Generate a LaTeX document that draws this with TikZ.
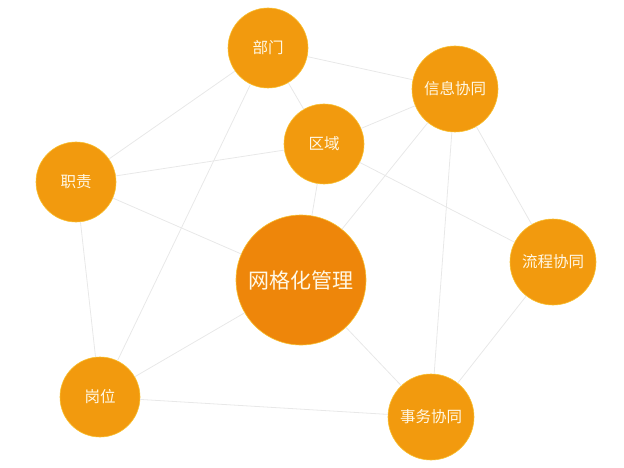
\documentclass[tikz,border=0pt]{standalone}
\usepackage{fontspec}
\newfontfamily\cjk{Noto Sans CJK SC}
\usepackage{tikz}
\usetikzlibrary{positioning}
\definecolor{ringorange}{HTML}{F29A0E}
\definecolor{coreorange}{HTML}{EE860A}
\definecolor{ringedge}{HTML}{F8C030}
\definecolor{linkgray}{HTML}{E8E8E8}
\definecolor{labelcream}{HTML}{FFF8E6}
\tikzset{
	every path/.style={line width=0.8pt},
	bubble/.style={circle, fill=ringorange, draw=ringedge, line width=0.6pt, minimum size=80pt, inner sep=0pt, text=labelcream, font=\cjk\fontsize{15.5}{15.5}\selectfont},
	wide/.style={bubble, minimum size=86pt},
	core/.style={bubble, fill=coreorange, minimum size=130pt, font=\cjk\fontsize{21}{21}\selectfont},
	link/.style={draw=linkgray, line width=0.8pt}
}
\begin{document}
\begin{tikzpicture}[x=1pt, y=-1pt]
						\useasboundingbox (0,0) rectangle (624,468);
						
						\node (dept) [bubble] at (268,48) {部门};
						\node (info) [wide] at (455,89) {信息协同};
						\node (area) [bubble] at (324,144) {区域};
						\node (duty) [bubble] at (76,182) {职责};
						\node (grid) [core] at (301,280) {网格化管理};
						\node (flow) [wide] at (553,262) {流程协同};
						\node (post) [bubble] at (100,397) {岗位};
						\node (task) [wide] at (431,417) {事务协同};
						
						\path[link] (dept) edge (info);
						\path[link] (dept) edge (duty);
						\path[link] (dept) edge (post);
						\path[link] (dept) edge (area);
						\path[link] (area) edge (info);
						\path[link] (area) edge (duty);
						\path[link] (area) edge (grid);
						\path[link] (area) edge (flow);
						\path[link] (info) edge (grid);
						\path[link] (info) edge (task);
						\path[link] (info) edge (flow);
						\path[link] (duty) edge (grid);
						\path[link] (duty) edge (post);
						\path[link] (grid) edge (post);
						\path[link] (grid) edge (task);
						\path[link] (post) edge (task);
						\path[link] (flow) edge (task);
						
					\end{tikzpicture}
\end{document}
